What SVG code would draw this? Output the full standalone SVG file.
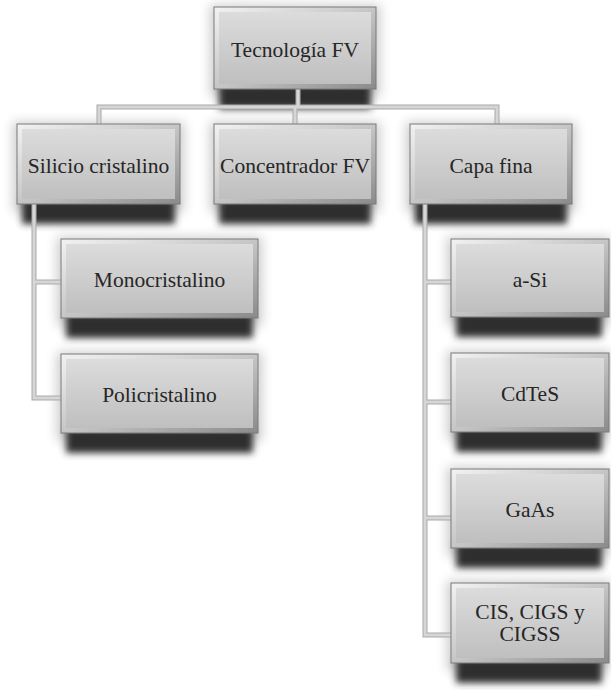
<svg xmlns="http://www.w3.org/2000/svg" width="611" height="690" viewBox="0 0 611 690">
  <defs>
    <linearGradient id="bevel" x1="0" y1="0" x2="1" y2="1">
      <stop offset="0" stop-color="#f2f2f2"/>
      <stop offset="0.5" stop-color="#c6c6c6"/>
      <stop offset="1" stop-color="#8a8a8a"/>
    </linearGradient>
    <linearGradient id="face" x1="0" y1="0" x2="0" y2="1">
      <stop offset="0" stop-color="#dcdcdc"/>
      <stop offset="1" stop-color="#bfbfbf"/>
    </linearGradient>
    <filter id="drop" x="-20%" y="-60%" width="140%" height="220%">
      <feGaussianBlur stdDeviation="3.5"/>
    </filter>
    <filter id="halo" x="-20%" y="-40%" width="140%" height="180%">
      <feGaussianBlur stdDeviation="6"/>
    </filter>
  </defs>
  <style>
    .box { fill: url(#bevel); stroke: #7a7a7a; stroke-width: 1; }
    .inner { fill: url(#face); }
    .shade { fill: #2e2e2e; filter: url(#drop); }
    .glow { fill: #000; opacity: 0.2; filter: url(#halo); }
    .lab { font-size: 21.5px; fill: #262626; text-anchor: middle; }
    .wire-o { fill: none; stroke: #a9a9a9; stroke-width: 5; stroke-linecap: square; }
    .wire-i { fill: none; stroke: #d6d6d6; stroke-width: 3; stroke-linecap: square; }
  </style>

  <rect width="611" height="690" fill="#ffffff"/>

  <!-- soft shadows beneath every box -->
  <g id="shadows">
    <rect class="glow" x="210" y="5" width="170" height="92"/>
    <rect class="shade" x="219" y="84" width="152" height="25"/>
    <rect class="glow" x="13" y="122" width="171" height="90"/>
    <rect class="shade" x="22" y="199" width="153" height="25"/>
    <rect class="glow" x="210" y="122" width="170" height="90"/>
    <rect class="shade" x="219" y="199" width="152" height="25"/>
    <rect class="glow" x="406" y="122" width="170" height="90"/>
    <rect class="shade" x="415" y="199" width="152" height="25"/>
    <rect class="glow" x="57" y="237" width="205" height="89"/>
    <rect class="shade" x="66" y="313" width="187" height="25"/>
    <rect class="glow" x="57" y="352" width="205" height="89"/>
    <rect class="shade" x="66" y="428" width="187" height="25"/>
    <rect class="glow" x="447" y="237" width="164" height="88"/>
    <rect class="shade" x="456" y="312" width="146" height="25"/>
    <rect class="glow" x="447" y="351" width="164" height="89"/>
    <rect class="shade" x="456" y="427" width="146" height="25"/>
    <rect class="glow" x="447" y="467" width="164" height="89"/>
    <rect class="shade" x="456" y="543" width="146" height="25"/>
    <rect class="glow" x="447" y="581" width="164" height="90"/>
    <rect class="shade" x="456" y="658" width="146" height="25"/>
  </g>

  <!-- tree connectors -->
  <g id="connectors">
    <path class="wire-o" d="M298 89 V107 M99 107 H497 M99 107 V124 M295 107 V124 M497 107 V124 M34 204 V398 M34 282 H61 M34 398 H61 M425 204 V635 M425 282 H451 M425 402 H451 M425 518 H451 M425 635 H451"/>
    <path class="wire-i" d="M298 89 V107 M99 107 H497 M99 107 V124 M295 107 V124 M497 107 V124 M34 204 V398 M34 282 H61 M34 398 H61 M425 204 V635 M425 282 H451 M425 402 H451 M425 518 H451 M425 635 H451"/>
  </g>

  <g font-family="'Liberation Serif', 'DejaVu Serif', 'Times New Roman', serif">
    <g id="tecnologia-fv">
      <rect class="box" x="214" y="7" width="162" height="82"/>
      <rect class="inner" x="219" y="12" width="152" height="72"/>
      <text class="lab" x="295" y="57">Tecnología FV</text>
    </g>

    <g id="silicio-cristalino">
      <rect class="box" x="17" y="124" width="163" height="80"/>
      <rect class="inner" x="22" y="129" width="153" height="70"/>
      <text class="lab" x="98.5" y="173">Silicio cristalino</text>
    </g>

    <g id="concentrador-fv">
      <rect class="box" x="214" y="124" width="162" height="80"/>
      <rect class="inner" x="219" y="129" width="152" height="70"/>
      <text class="lab" x="295" y="173">Concentrador FV</text>
    </g>

    <g id="capa-fina">
      <rect class="box" x="410" y="124" width="162" height="80"/>
      <rect class="inner" x="415" y="129" width="152" height="70"/>
      <text class="lab" x="491" y="173">Capa fina</text>
    </g>

    <g id="monocristalino">
      <rect class="box" x="61" y="239" width="197" height="79"/>
      <rect class="inner" x="66" y="244" width="187" height="69"/>
      <text class="lab" x="159.5" y="287">Monocristalino</text>
    </g>

    <g id="policristalino">
      <rect class="box" x="61" y="354" width="197" height="79"/>
      <rect class="inner" x="66" y="359" width="187" height="69"/>
      <text class="lab" x="159.5" y="402">Policristalino</text>
    </g>

    <g id="a-si">
      <rect class="box" x="451" y="239" width="158" height="78"/>
      <rect class="inner" x="456" y="244" width="148" height="68"/>
      <text class="lab" x="530" y="287">a-Si</text>
    </g>

    <g id="cdtes">
      <rect class="box" x="451" y="353" width="158" height="79"/>
      <rect class="inner" x="456" y="358" width="148" height="69"/>
      <text class="lab" x="530" y="401">CdTeS</text>
    </g>

    <g id="gaas">
      <rect class="box" x="451" y="469" width="158" height="79"/>
      <rect class="inner" x="456" y="474" width="148" height="69"/>
      <text class="lab" x="530" y="517">GaAs</text>
    </g>

    <g id="cis-cigs">
      <rect class="box" x="451" y="583" width="158" height="80"/>
      <rect class="inner" x="456" y="588" width="148" height="70"/>
      <text class="lab" x="530" y="619">CIS, CIGS y</text>
      <text class="lab" x="530" y="641">CIGSS</text>
    </g>
  </g>
</svg>
